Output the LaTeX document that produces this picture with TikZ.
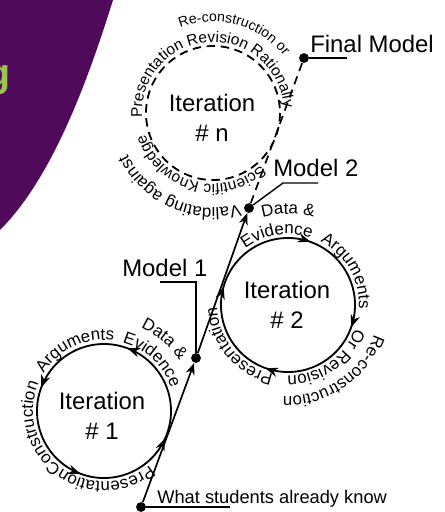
\documentclass[tikz,border=0pt]{standalone}
\usepackage{fontspec}
\setmainfont{Liberation Sans}
\usepackage{xcolor}
\usetikzlibrary{positioning,arrows.meta,decorations.text,decorations.markings}
\definecolor{bannerpurple}{HTML}{4F0A59}
\definecolor{bannergreen}{HTML}{9CC44C}
\newcommand\ringfont{\fontsize{12}{14}\selectfont}
\newcommand\ringfontsmall{\fontsize{11}{13}\selectfont}
\newcommand\ringfonttiny{\fontsize{10}{12}\selectfont}
\newcommand\labelfont{\fontsize{17}{21}\selectfont}

\begin{document}
\begin{tikzpicture}[x=0.025cm, y=-0.025cm, >=Stealth,
    dotnode/.style={circle, fill, inner sep=0pt, minimum size=7pt},
    modellabel/.style={anchor=base west, inner sep=0pt, font=\labelfont},
    itertext/.style={align=center, font=\labelfont},
    flow/.style={line width=1.2pt},
    leader/.style={line width=1pt},
    ringline/.style={line width=1.3pt},
    sketchdash/.style={dash pattern=on 6pt off 4pt},
    loopmarks/.style={postaction={decorate}, decoration={markings,
        mark=at position 0.25 with {\arrow{>}},
        mark=at position 0.5 with {\arrow{>}},
        mark=at position 0.75 with {\arrow{>}},
        mark=at position 0.99 with {\arrow{>}}}},
    ringtext/.style 2 args={decorate, decoration={text along path, text align=center, text={|#1|#2}}}]
    \useasboundingbox (0,0) rectangle (445,512);
    \clip (0,0) rectangle (445,512);

    % Banner
    \fill[bannerpurple] (0,0) -- (113,0) .. controls (85,90) and (50,180) .. (0,230) -- cycle;
    \node[anchor=base east, inner sep=0pt, text=bannergreen, font=\fontsize{28}{32}\selectfont\bfseries] (banner) at (11,86) {g};

    % Circle centres
    \coordinate (itern) at (213,113);
    \coordinate (iter2) at (288,305);
    \coordinate (iter1) at (104,411);

    % Circles
    \draw[ringline, sketchdash] (itern) circle[radius=67];
    \draw[ringline, loopmarks] ([shift={(199.5:67)}]iter2) arc[start angle=199.5, end angle=559.5, radius=67];
    \draw[ringline, loopmarks] ([shift={(20.5:67)}]iter1) arc[start angle=20.5, end angle=-339.5, radius=67];

    \node[itertext] (labn) at (212,118) {Iteration\\\# n};
    \node[itertext] (lab2) at (287,305) {Iteration\\\# 2};
    \node[itertext] (lab1) at (102,416) {Iteration\\\# 1};

    % Texts round iteration n
    \path[ringtext={\ringfontsmall}{Presentation Revision Rationally}] ([shift={(166:71)}]itern) arc[start angle=166, end angle=366, radius=71];
    \path[ringtext={\ringfonttiny}{Re-construction or}] ([shift={(215:91)}]itern) arc[start angle=215, end angle=355, radius=91];
    \path[ringtext={\ringfontsmall}{Scientific Knowledge}] ([shift={(25:71)}]itern) arc[start angle=25, end angle=185, radius=71];
    \path[ringtext={\ringfont}{Validating against}] ([shift={(44:95)}]itern) arc[start angle=44, end angle=184, radius=95];

    % Texts round iteration 2
    \path[ringtext={\ringfont}{Data {\&}}] ([shift={(220:91)}]iter2) arc[start angle=220, end angle=320, radius=91];
    \path[ringtext={\ringfont}{Evidence}] ([shift={(211:71)}]iter2) arc[start angle=211, end angle=311, radius=71];
    \path[ringtext={\ringfont}{Arguments}] ([shift={(280:71)}]iter2) arc[start angle=280, end angle=380, radius=71];
    \path[ringtext={\ringfont}{Or Revision}] ([shift={(365:71)}]iter2) arc[start angle=365, end angle=465, radius=71];
    \path[ringtext={\ringfont}{Presentation}] ([shift={(90:71)}]iter2) arc[start angle=90, end angle=190, radius=71];
    \path[ringtext={\ringfont}{Re-construction}] ([shift={(-4:91)}]iter2) arc[start angle=-4, end angle=116, radius=91];

    % Texts round iteration 1
    \path[ringtext={\ringfont}{Data {\&}}] ([shift={(270:91)}]iter1) arc[start angle=270, end angle=350, radius=91];
    \path[ringtext={\ringfont}{Evidence}] ([shift={(268:71)}]iter1) arc[start angle=268, end angle=358, radius=71];
    \path[ringtext={\ringfont}{Arguments}] ([shift={(200:71)}]iter1) arc[start angle=200, end angle=290, radius=71];
    \path[ringtext={\ringfont}{Construction}] ([shift={(120:71)}]iter1) arc[start angle=120, end angle=210, radius=71];
    \path[ringtext={\ringfont}{Presentation}] ([shift={(43:71)}]iter1) arc[start angle=43, end angle=133, radius=71];

    % Nodes
    \node[dotnode] (know) at (141,507) {};
    \node[dotnode] (model1) at (196,358) {};
    \node[dotnode] (model2) at (249,208) {};
    \node[dotnode] (final) at (304,58) {};

    \node[modellabel] (finallab) at (310,53) {Final Model};
    \node[modellabel] (model2lab) at (273,176) {Model 2};
    \node[modellabel] (model1lab) at (122,276) {Model 1};
    \node[modellabel, font=\fontsize{13}{16}\selectfont] (knowlab) at (157,503) {What students already know};

    \coordinate (finalend) at (347,58);
    \coordinate (model2bend) at (283,183);
    \coordinate (model2end) at (318,183);
    \coordinate (model1end) at (160,282);
    \coordinate (knowend) at (230,507);

    % Arrows
    \draw[flow, ->] (know) -- (model1);
    \draw[flow, ->] (model1) -- (model2);
    \draw[flow, sketchdash] (model2) -- (final);

    \draw[leader] (final) -- (finalend);
    \draw[leader] (model2) -- (model2bend) -- (model2end);
    \draw[leader] (model1end) -| (model1);
    \draw[leader] (know) -- (knowend);
\end{tikzpicture}
\end{document}
